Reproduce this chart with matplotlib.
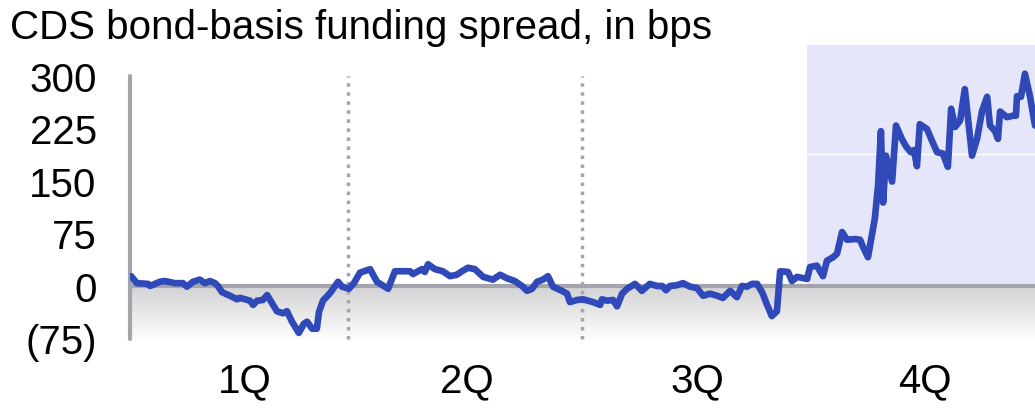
import numpy as np
import matplotlib
matplotlib.use("Agg")
import matplotlib.pyplot as plt

plt.rcParams["font.family"] = ["Liberation Sans", "DejaVu Sans"]

# trading-day index and spread in bps
days = [0.3, 1.9, 5.0, 5.6, 8.3, 9.7, 12.5, 14.7, 15.8, 17.5, 19.4, 20.8, 22.2, 23.6,
        24.4, 25.6, 27.8, 29.7, 30.6, 31.9, 33.3, 34.2, 35.3, 36.9, 38.1, 39.4, 40.8,
        42.5, 43.6, 45.0, 46.9, 48.3, 49.2, 50.6, 51.9, 52.5, 53.6, 55.6, 57.8, 58.9,
        60.8, 62.2, 63.9, 66.7, 68.6, 71.7, 73.6, 77.8, 78.6, 81.1, 81.9, 82.8, 84.7,
        86.9, 88.9, 90.8, 92.2, 93.9, 95.8, 98.1, 100.8, 102.8, 104.7, 106.9, 108.9,
        110.3, 111.7, 113.1, 114.7, 116.1, 117.5, 120.0, 121.4, 122.2, 124.2, 125.8,
        128.6, 130.6, 131.1, 132.5, 134.2, 135.3, 136.7, 138.1, 140.3, 142.2, 144.4,
        146.4, 147.8, 148.9, 150.0, 151.9, 153.6, 155.6, 157.5, 159.2, 161.1, 163.1,
        164.7, 166.7, 168.6, 170.0, 171.4, 172.8, 174.2, 175.6, 176.9, 178.3, 179.7,
        180.6, 182.8, 183.9, 185.3, 188.1, 188.9, 190.8, 192.5, 193.6, 195.3, 196.4,
        197.8, 199.2, 201.4, 202.8, 203.6, 205.0, 206.9, 207.8, 208.6, 209.2, 210.0,
        211.7, 212.8, 214.4, 215.6, 216.9, 217.8, 218.6, 219.4, 221.4, 222.8, 224.2,
        225.8, 227.2, 228.1, 229.2, 230.6, 231.9, 232.8, 233.9, 235.3, 236.7, 238.1,
        238.9, 240.3, 241.1, 241.7, 243.6, 245.3, 246.1, 246.4, 247.5, 248.6, 250.0,
        251.4]
spread = [14, 4, 3, 0, 6, 7, 4, 4, -1, 6, 9, 4, 7, 4,
          0, -9, -14, -19, -17, -19, -21, -27, -21, -20, -13, -24, -36,
          -39, -36, -51, -67, -54, -51, -61, -61, -37, -21, -10, 6, -1,
          -4, 4, 19, 24, 6, -4, 21, 21, 17, 24, 20, 31, 24,
          21, 14, 16, 21, 26, 24, 13, 9, 16, 11, 7, 0,
          -7, -4, 6, 9, 14, -1, -7, -11, -23, -20, -19,
          -23, -27, -19, -21, -20, -29, -11, -4, 3, -7, 3,
          0, 0, -6, 0, 1, 4, -1, -3, -14, -11, -14,
          -17, -7, -16, 0, -1, 3, 3, -9, -26, -43, -36,
          21, 20, 7, 13, 10, 27, 29, 14, 36, 41, 46,
          77, 66, 67, 66, 56, 41, 96, 143, 221, 119, 186,
          149, 229, 210, 199, 191, 194, 171, 231, 224, 207, 191,
          189, 170, 253, 227, 236, 281, 239, 186, 210, 250, 270,
          229, 221, 210, 249, 241, 243, 243, 271, 270, 303, 271,
          229]

yticks = [300, 225, 150, 75, 0, -75]
ytick_labels = ["300", "225", "150", "75", "0", "(75)"]
quarters = ["1Q", "2Q", "3Q", "4Q"]
quarter_mid = [32, 93.6, 157.5, 220.8]
quarter_breaks = [60.5, 125.5]
shade_start = 188

x_max = 251.4
y_min, y_max = -80, 344

fig = plt.figure(figsize=(10.35, 4.10), dpi=100)
ax = fig.add_axes([130 / 1035, 1 - 343 / 410, 1 - 130 / 1035, (343 - 46) / 410])
ax.set_xlim(0, x_max)
ax.set_ylim(y_min, y_max)

# shaded latest quarter
ax.fill_between([shade_start, x_max], 0, y_max, color="#e6e6fa", lw=0, zorder=0)
ax.plot([shade_start, x_max], [189, 189], color="white", lw=1, zorder=1)

# gray gradient below the zero line (dark at top, fading to white)
grad = np.linspace(0, 1, 100).reshape(-1, 1)
cmap = matplotlib.colors.LinearSegmentedColormap.from_list("g", ["#ffffff", "#d2d2d4"])
ax.imshow(grad, extent=[0, x_max, 0, y_min], aspect="auto", cmap=cmap,
          origin="upper", zorder=0)

ax.axhline(0, color="#a4a4ac", lw=3, zorder=2)
for xb in quarter_breaks:
    ax.plot([xb, xb], [-76, 300], color="#a4a4ac", lw=2.5, ls=(0, (1, 1.6)), zorder=2)

ax.plot(days, spread, color="#3049b9", lw=4.8, solid_joinstyle="round",
        solid_capstyle="round", zorder=3)

for s in ["top", "right", "bottom"]:
    ax.spines[s].set_visible(False)
ax.spines["left"].set_bounds(-76, 300)
ax.spines["left"].set_color("#a4a4ac")
ax.spines["left"].set_linewidth(3)
ax.spines["left"].set_capstyle("round")

ax.set_yticks(yticks)
ax.set_yticklabels(ytick_labels, fontsize=29)
ax.tick_params(axis="y", length=0, pad=24)
ax.set_xticks(quarter_mid)
ax.set_xticklabels(quarters, fontsize=29)
ax.tick_params(axis="x", length=0, pad=14)

fig.text(10 / 1035, 1 - 28 / 410, "CDS bond-basis funding spread, in bps",
         fontsize=29, va="center", ha="left")

fig.savefig("out.png", dpi=100)
